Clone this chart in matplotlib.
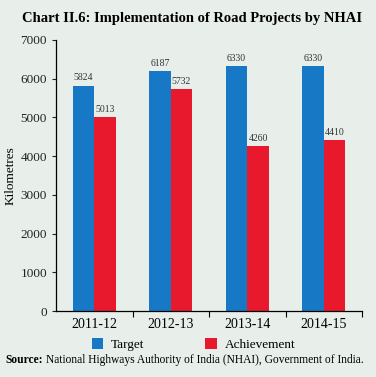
import matplotlib.pyplot as plt
import numpy as np

years = ['2011-12', '2012-13', '2013-14', '2014-15']
target = [5824, 6187, 6330, 6330]
achievement = [5013, 5732, 4260, 4410]

bg = '#e8efeb'
blue = '#1779c6'
red = '#e8192c'

plt.rcParams['font.family'] = ['Liberation Serif', 'DejaVu Serif']

fig = plt.figure(figsize=(3.76, 3.77), dpi=100, facecolor=bg)
ax = fig.add_axes([0.149, 0.175, 0.814, 0.719], facecolor=bg)

x = np.arange(len(years))
w = 0.28
b1 = ax.bar(x - w / 2, target, w, color=blue, label='Target')
b2 = ax.bar(x + w / 2, achievement, w, color=red, label='Achievement')

for rect, v in zip(b1, target):
    ax.text(rect.get_x() + rect.get_width() / 2, v + 80, str(v),
            ha='center', va='bottom', fontsize=7, color='#333333')
for rect, v in zip(b2, achievement):
    ax.text(rect.get_x() + rect.get_width() / 2, v + 80, str(v),
            ha='center', va='bottom', fontsize=7, color='#333333')

ax.set_xlim(-0.5, 3.5)
ax.set_ylim(0, 7000)
ax.set_yticks(range(0, 7001, 1000))
ax.tick_params(axis='y', labelsize=9.5, length=3, width=0.8, colors='#222222')
ax.set_xticks(x)
ax.set_xticklabels(years, fontsize=10)
ax.set_xticks([0.5, 1.5, 2.5, 3.5], minor=True)
ax.tick_params(axis='x', which='major', length=0, pad=5)
ax.tick_params(axis='x', which='minor', length=4, width=0.8)
ax.set_ylabel('Kilometres', fontsize=9.5)
ax.yaxis.set_label_coords(-0.13, 0.5)
for s in ['top', 'right']:
    ax.spines[s].set_visible(False)
ax.spines['left'].set_linewidth(0.9)
ax.spines['bottom'].set_linewidth(0.9)

fig.text(0.058, 0.952, 'Chart II.6: Implementation of Road Projects by NHAI',
         fontsize=10.5, fontweight='bold', va='center', ha='left')

fig.legend(handles=[b1, b2], labels=['Target', 'Achievement'],
           loc='center', bbox_to_anchor=(0.515, 0.087), ncol=2, frameon=False,
           fontsize=9.5, handlelength=0.9, handleheight=0.9,
           columnspacing=4.6, handletextpad=0.6)

# source line: bold label followed by normal text
r = fig.canvas.get_renderer()
src = fig.text(0.015, 0.045, 'Source:', fontsize=8.3, fontweight='bold',
               va='center', ha='left')
bb = src.get_window_extent(renderer=r)
x0 = (bb.x1 + 3) / fig.bbox.width
fig.text(x0, 0.045, 'National Highways Authority of India (NHAI), Government of India.',
         fontsize=8.3, va='center', ha='left')

fig.savefig('out.png', dpi=100, facecolor=bg)
